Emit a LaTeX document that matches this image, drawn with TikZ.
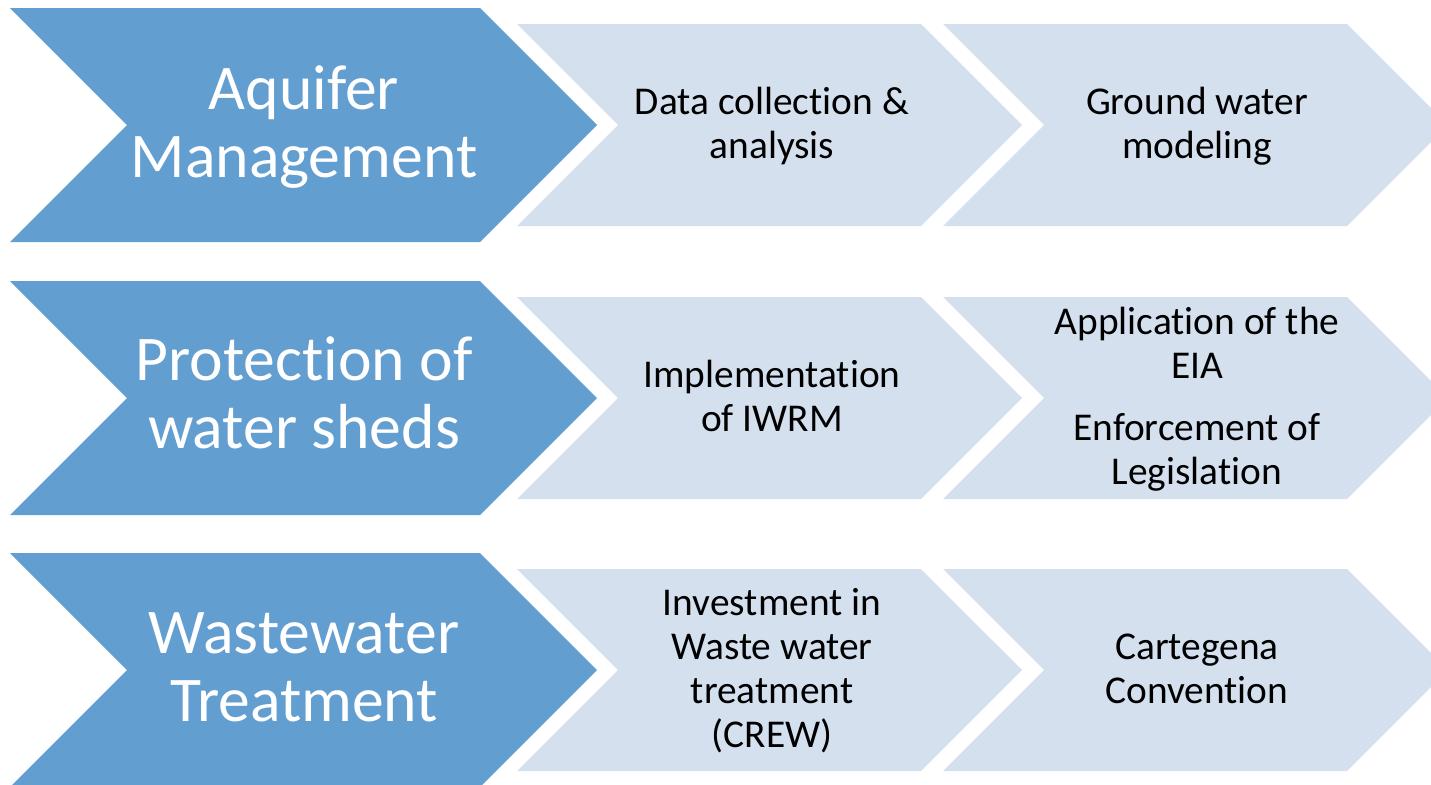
\documentclass[tikz,border=0pt]{standalone}
\usepackage{fontspec}
\setmainfont{Carlito}
\definecolor{bigblue}{RGB}{99,158,209}
\definecolor{paleblue}{RGB}{213,224,239}

% chevron: style, left x, centre y, body width, half height (pixel units)
\newcommand{\chevshape}[5]{%
  \fill[#1] (#2,#3-#5) -- ++(#4,0) -- ++(#5,#5) -- ++(-#5,#5) -- ++(-#4,0) -- ++(#5,-#5) -- cycle;}
% plain t-i, no ligature
\newcommand{\ti}{t\kern0pt i}

\begin{document}
\begin{tikzpicture}[x=0.01cm,y=-0.01cm,
    bigfill/.style={fill=bigblue},
    smallfill/.style={fill=paleblue},
    bigtext/.style={text=white,align=center,font=\fontsize{18.1}{19.3}\selectfont},
    smalltext/.style={text=black,align=center,font=\fontsize{11.2}{12.5}\selectfont}]
    \useasboundingbox (0,0) rectangle (1431,784);
    \clip (0,0) rectangle (1431,784);

    % row 1
    \chevshape{bigfill}{10}{125}{470}{117}
    \chevshape{smallfill}{517}{125}{404}{101}
    \chevshape{smallfill}{943}{125}{404}{101}
    \node[bigtext] (aquifer) at (304,127) {Aquifer\\Management};
    \node[smalltext] (data) at (772,126) {Data collec\ti on \&\\analysis};
    \node[smalltext] (model) at (1197,126) {Ground water\\modeling};

    % row 2
    \chevshape{bigfill}{10}{398}{470}{117}
    \chevshape{smallfill}{517}{398}{404}{101}
    \chevshape{smallfill}{943}{398}{404}{101}
    \node[bigtext] (protect) at (304,393) {Protec\ti on of\\water sheds};
    \node[smalltext] (iwrm) at (772,396) {Implementa\ti on\\of IWRM};
    \node[smalltext] (eia) at (1197,399) {Applica\ti on of the\\EIA\\[5pt]Enforcement of\\Legisla\ti on};

    % row 3
    \chevshape{bigfill}{10}{670}{470}{117}
    \chevshape{smallfill}{517}{670}{404}{101}
    \chevshape{smallfill}{943}{670}{404}{101}
    \node[bigtext] (waste) at (304,667) {Wastewater\\Treatment};
    \node[smalltext] (crew) at (772,671) {Investment in\\Waste water\\treatment\\(CREW)};
    \node[smalltext] (carta) at (1197,669) {Cartegena\\Conven\ti on};
\end{tikzpicture}
\end{document}
